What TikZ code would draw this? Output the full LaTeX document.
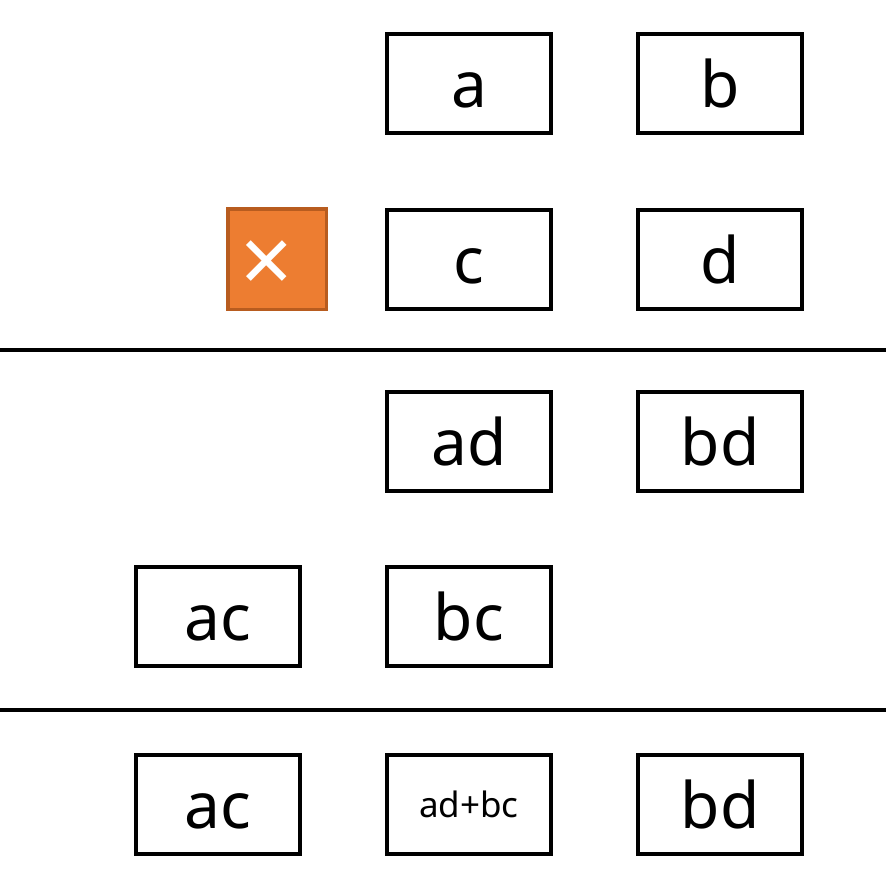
\documentclass[tikz,border=0pt]{standalone}
\usepackage{fontspec}
\setmainfont{Noto Sans}
\usepackage{xcolor}
\usetikzlibrary{positioning}
\definecolor{orangefill}{HTML}{ED7D31}
\definecolor{orangeline}{HTML}{B85C1F}

\begin{document}
\begin{tikzpicture}
  [
    x=1pt, y=-1pt,
    Box/.style={rectangle, draw=black, line width=4pt, fill=white, inner sep=0pt,
      minimum width=164pt, minimum height=99pt,
      font=\fontsize{64}{64}\selectfont, text height=48pt, text depth=0pt},
    Small/.style={Box, font=\fontsize{35}{35}\selectfont, text height=27pt},
    Times/.style={rectangle, draw=orangeline, fill=orangefill, line width=3.5pt, inner sep=0pt,
      minimum width=98.5pt, minimum height=100.5pt},
    Rule/.style={draw=black, line width=4pt}
  ]
  \useasboundingbox (0, 0) rectangle (886, 883);
  % Nodes
  \node[Box] (a) at(469, 83.5) {a};
  \node[Box] (b) at(720, 83.5) {b};
  \node[Times] (times) at(277, 259) {};
  \node[text=white, inner sep=0pt, font=\fontsize{92}{92}\selectfont] (sign) at(267, 267) {×};
  \node[Box] (c) at(469, 259) {c};
  \node[Box] (d) at(720, 259) {d};
  \node[Box] (ad) at(469, 441.5) {ad};
  \node[Box] (bd) at(720, 441.5) {bd};
  \node[Box] (ac) at(217.5, 616.5) {ac};
  \node[Box] (bc) at(469, 616.5) {bc};
  \node[Box] (acsum) at(217.5, 804) {ac};
  \node[Small] (adbc) at(469, 804) {ad+bc};
  \node[Box] (bdsum) at(720, 804) {bd};
  % Lines
  \coordinate (l1) at(0, 350);
  \coordinate (r1) at(886, 350);
  \coordinate (l2) at(0, 710);
  \coordinate (r2) at(886, 710);
  \path [Rule] (l1) -- (r1);
  \path [Rule] (l2) -- (r2);
\end{tikzpicture}
\end{document}
